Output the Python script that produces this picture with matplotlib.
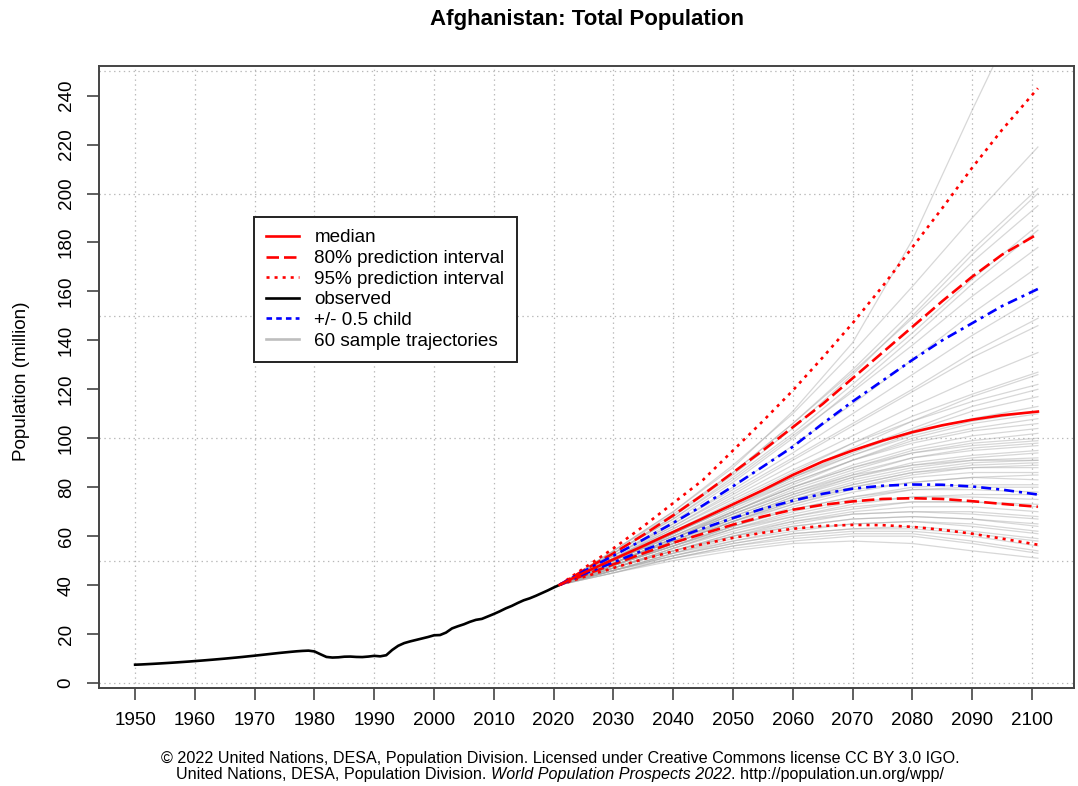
import matplotlib
matplotlib.use("Agg")
import matplotlib.pyplot as plt
from matplotlib.lines import Line2D

plt.rcParams['font.family'] = ['Liberation Sans', 'DejaVu Sans']
plt.rcParams['lines.scale_dashes'] = False

# Observed population, 1950-2021 (million).
obs_years = list(range(1950, 2022))
obs_pop = [7.48, 7.57, 7.70, 7.83, 7.97, 8.12, 8.27, 8.43, 8.60, 8.77,
           8.96, 9.14, 9.34, 9.54, 9.75, 9.96, 10.19, 10.42, 10.66, 10.92,
           11.17, 11.44, 11.71, 11.98, 12.25, 12.49, 12.73, 12.95, 13.12, 13.23,
           12.90, 11.75, 10.65, 10.40, 10.50, 10.75, 10.80, 10.65, 10.60, 10.80,
           11.10, 10.90, 11.35, 13.50, 15.20, 16.30, 17.00, 17.60, 18.20, 18.80,
           19.50, 19.60, 20.60, 22.30, 23.20, 24.00, 25.00, 25.80, 26.20, 27.20,
           28.20, 29.30, 30.50, 31.50, 32.70, 33.80, 34.60, 35.60, 36.70, 37.80,
           39.00, 40.10]

# Projections (million), every five years.
proj_years = [2021, 2025, 2030, 2035, 2040, 2045, 2050, 2055, 2060,
              2065, 2070, 2075, 2080, 2085, 2090, 2095, 2101]
median = [40.1, 45.0, 50.5, 56.0, 61.7, 67.3, 73.0, 78.8, 85.0,
          90.5, 95.0, 99.0, 102.5, 105.3, 107.6, 109.4, 110.9]
pi80_up = [40.1, 46.0, 53.0, 60.5, 68.5, 77.0, 86.0, 95.0, 104.5,
           114.0, 124.5, 135.0, 145.5, 156.0, 166.0, 175.0, 183.5]
pi80_lo = [40.1, 44.0, 48.5, 53.0, 57.3, 61.0, 64.7, 68.0, 70.8,
           72.8, 74.2, 75.2, 75.5, 75.2, 74.3, 73.2, 72.0]
pi95_up = [40.1, 46.8, 55.0, 64.0, 73.5, 83.0, 95.0, 107.0, 119.5,
           133.0, 147.0, 162.0, 178.0, 194.0, 210.5, 226.0, 243.0]
pi95_lo = [40.1, 43.3, 47.0, 50.6, 53.8, 56.8, 59.3, 61.4, 63.0,
           64.2, 64.6, 64.5, 63.8, 62.6, 61.0, 59.0, 56.5]
child_up = [40.1, 45.6, 52.0, 58.6, 65.4, 72.6, 80.4, 88.4, 96.5,
            106.0, 115.0, 123.5, 132.0, 140.0, 147.0, 154.0, 161.0]
child_lo = [40.1, 44.5, 49.3, 54.2, 58.8, 63.2, 67.4, 71.2, 74.5,
            77.3, 79.4, 80.6, 81.1, 81.0, 80.3, 79.0, 77.0]

# Sample trajectories, every ten years.
traj_years = [2021, 2030, 2040, 2050, 2060, 2070, 2080, 2090, 2101]
trajectories = [
    [40.1, 54, 70, 88, 111, 139, 181, 234, 290],
    [40.1, 54, 70, 89, 110, 135, 162, 190, 219],
    [40.1, 54, 69, 86, 106, 128, 152, 177, 202],
    [40.1, 53, 68, 85, 104, 126, 150, 175, 200],
    [40.1, 53, 68, 86, 106, 127, 149, 172, 195],
    [40.1, 53, 67, 84, 102, 122, 143, 165, 187],
    [40.1, 52, 66, 82, 100, 120, 141, 163, 185],
    [40.1, 53, 67, 83, 101, 119, 138, 158, 178],
    [40.1, 52, 65, 80, 97, 114, 132, 151, 170],
    [40.1, 52, 65, 79, 94, 110, 126, 142, 158],
    [40.1, 51, 64, 78, 92, 106, 120, 135, 149],
    [40.1, 52, 64, 77, 91, 105, 119, 133, 146],
    [40.1, 51, 63, 76, 89, 101, 113, 124, 135],
    [40.1, 51, 62, 74, 86, 98, 109, 118, 127],
    [40.1, 50, 61, 73, 85, 96, 107, 117, 126],
    [40.1, 51, 63, 75, 87, 98, 107, 115, 122],
    [40.1, 50, 61, 72, 84, 95, 104, 113, 120],
    [40.1, 50, 61, 73, 84, 94, 103, 111, 117],
    [40.1, 50, 61, 72, 83, 93, 102, 108, 113],
    [40.1, 51, 62, 73, 84, 93, 101, 107, 111],
    [40.1, 49, 59, 70, 81, 91, 100, 106, 110],
    [40.1, 50, 60, 71, 82, 91, 99, 104, 108],
    [40.1, 50, 61, 72, 82, 91, 98, 103, 106],
    [40.1, 49, 59, 70, 80, 89, 96, 101, 104],
    [40.1, 50, 60, 70, 80, 88, 95, 99, 102],
    [40.1, 49, 59, 69, 79, 87, 94, 98, 100],
    [40.1, 50, 60, 70, 80, 88, 94, 97, 99],
    [40.1, 49, 58, 68, 77, 85, 92, 96, 98],
    [40.1, 49, 59, 69, 78, 86, 92, 95, 97],
    [40.1, 48, 57, 67, 76, 84, 90, 93, 95],
    [40.1, 49, 58, 68, 77, 84, 89, 92, 94],
    [40.1, 49, 58, 67, 76, 83, 88, 91, 92],
    [40.1, 48, 57, 66, 75, 82, 87, 90, 91],
    [40.1, 49, 59, 69, 78, 85, 89, 91, 91],
    [40.1, 48, 57, 66, 74, 81, 86, 89, 90],
    [40.1, 48, 56, 65, 73, 80, 85, 88, 89],
    [40.1, 49, 58, 67, 75, 81, 86, 88, 88],
    [40.1, 48, 57, 66, 74, 80, 84, 86, 86],
    [40.1, 48, 56, 64, 72, 78, 82, 84, 85],
    [40.1, 48, 57, 66, 73, 79, 82, 84, 83],
    [40.1, 48, 56, 64, 71, 76, 80, 81, 81],
    [40.1, 47, 55, 63, 70, 75, 79, 80, 80],
    [40.1, 48, 56, 64, 71, 76, 79, 79, 78],
    [40.1, 47, 55, 62, 68, 73, 76, 77, 77],
    [40.1, 47, 55, 63, 69, 74, 76, 76, 75],
    [40.1, 47, 54, 61, 67, 71, 74, 74, 73],
    [40.1, 48, 56, 63, 68, 72, 74, 74, 72],
    [40.1, 47, 54, 60, 66, 70, 72, 72, 70],
    [40.1, 46, 53, 60, 65, 69, 70, 70, 68],
    [40.1, 47, 54, 61, 66, 69, 70, 69, 67],
    [40.1, 46, 53, 59, 64, 67, 68, 67, 65],
    [40.1, 47, 54, 60, 64, 67, 68, 67, 64],
    [40.1, 46, 52, 58, 62, 65, 66, 65, 62],
    [40.1, 46, 53, 58, 63, 65, 66, 64, 61],
    [40.1, 46, 52, 57, 61, 63, 64, 62, 59],
    [40.1, 46, 52, 57, 61, 63, 63, 61, 58],
    [40.1, 45, 51, 56, 60, 62, 62, 60, 56],
    [40.1, 45, 51, 56, 59, 61, 61, 58, 54],
    [40.1, 46, 51, 55, 58, 60, 60, 57, 53],
    [40.1, 45, 50, 54, 57, 58, 57, 54, 51],
]

x_ticks = list(range(1950, 2101, 10))
y_ticks = list(range(0, 241, 20))
y_grid = list(range(0, 251, 50))

W, H = 1078, 786
fig = plt.figure(figsize=(W / 100, H / 100), dpi=100)
ax = fig.add_axes([99 / W, 1 - 688 / H, (1074 - 99) / W, (688 - 66) / H])

lw = 1.9
dashed = (0, (9, 3.6))
dotted = (0, (2.2, 3.6))
dashdot = (0, (7.2, 3.6, 2.2, 3.6))

# Dotted grid: every x tick, every 50 million on y.
grid_style = dict(color='#b8b8b8', lw=0.9, ls=(0, (1, 2.5)), zorder=0)
for xv in x_ticks:
    ax.axvline(xv, **grid_style)
for yv in y_grid:
    ax.axhline(yv, **grid_style)

# Grey trajectories first, so the main lines sit on top.
for traj in trajectories:
    ax.plot(traj_years, traj, color='#a8a8a8', alpha=0.45, lw=0.9)

ax.plot(obs_years, obs_pop, color='black', lw=lw)
ax.plot(proj_years, pi95_up, color='red', lw=lw, ls=dotted)
ax.plot(proj_years, pi95_lo, color='red', lw=lw, ls=dotted)
ax.plot(proj_years, pi80_up, color='red', lw=lw, ls=dashed)
ax.plot(proj_years, pi80_lo, color='red', lw=lw, ls=dashed)
ax.plot(proj_years, child_up, color='blue', lw=lw, ls=dashdot)
ax.plot(proj_years, child_lo, color='blue', lw=lw, ls=dashdot)
ax.plot(proj_years, median, color='red', lw=lw)

ax.set_xlim(1943.96, 2107.04)
ax.set_ylim(-2.04, 252.1)

ax.set_xticks(x_ticks)
ax.set_yticks(y_ticks)
ax.tick_params(axis='both', which='major', length=8.5, width=1.2,
               color='#444444', labelsize=13.6, pad=9)
for lab in ax.get_yticklabels():
    lab.set_rotation(90)
    lab.set_va('center')

for s in ax.spines.values():
    s.set_color('#444444')
    s.set_linewidth(1.4)

fig.text(586.5 / W, 1 - 20 / H, 'Afghanistan: Total Population',
         fontsize=16, fontweight='bold', ha='center', va='center')
fig.text(22 / W, 1 - 381 / H, 'Population (million)', fontsize=13.6,
         rotation=90, ha='center', va='center')

handles = [
    Line2D([], [], color='red', lw=lw),
    Line2D([], [], color='red', lw=lw, ls=dashed),
    Line2D([], [], color='red', lw=lw, ls=dotted),
    Line2D([], [], color='black', lw=lw),
    Line2D([], [], color='blue', lw=lw, ls=(0, (4, 3))),
    Line2D([], [], color='#bebebe', lw=lw),
]
labels = ['median', '80% prediction interval', '95% prediction interval',
          'observed', '+/- 0.5 child', '60 sample trajectories']
leg = ax.legend(handles, labels, loc='upper left',
                bbox_to_anchor=(254 / W, 1 - 217 / H),
                bbox_transform=fig.transFigure, fontsize=13.6,
                fancybox=False, framealpha=1, edgecolor='#222222',
                handlelength=1.75, handletextpad=0.8, labelspacing=0.18,
                borderpad=0.65, borderaxespad=0)
leg.get_frame().set_linewidth(1.4)

# Footer: second line mixes upright and italic text.
fs = 11.6
fig.text(560 / W, 1 - 758 / H,
         '\u00a9 2022 United Nations, DESA, Population Division. '
         'Licensed under Creative Commons license CC BY 3.0 IGO.',
         fontsize=fs, ha='center', va='center')
parts = [('United Nations, DESA, Population Division. ', 'normal'),
         ('World Population Prospects 2022', 'italic'),
         ('. http://population.un.org/wpp/', 'normal')]
fig.canvas.draw()
renderer = fig.canvas.get_renderer()
texts = [fig.text(0, 1 - 775 / H, p, fontsize=fs, style=st, va='center')
         for p, st in parts]
widths = [t.get_window_extent(renderer).width for t in texts]
x = 560 - sum(widths) / 2
for t, w in zip(texts, widths):
    t.set_x(x / W)
    x += w

fig.savefig('out.png', dpi=100)
